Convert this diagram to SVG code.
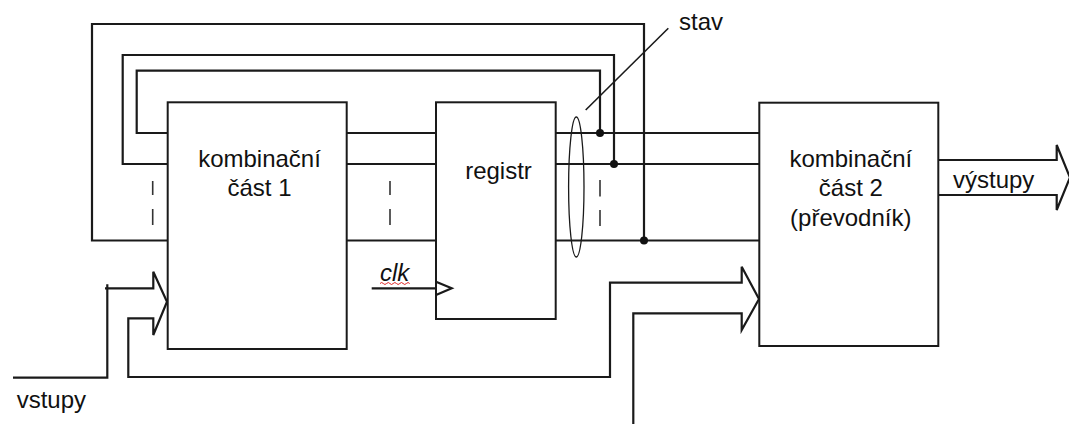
<svg xmlns="http://www.w3.org/2000/svg" width="1069" height="424" viewBox="0 0 1069 424">
<style>
.box{fill:#fff;stroke:#1a1a1a;stroke-width:2}
.w{fill:none;stroke:#1a1a1a;stroke-width:2.2}
.thin{fill:none;stroke:#1a1a1a;stroke-width:1.3}
.dash{fill:none;stroke:#333;stroke-width:1.6}
.dot{fill:#111}
text{font-family:"Liberation Sans",Arial,sans-serif;font-size:24px;fill:#111}
.c{text-anchor:middle}
</style>
<rect width="1069" height="424" fill="#fff"/>
<g id="connectors">
<!-- feedback loops -->
<polyline class="w" points="168,240.5 92,240.5 92,24 644,24 644,240.5"/>
<polyline class="w" points="168,164 122.7,164 122.7,55 614,55 614,164"/>
<polyline class="w" points="168,133 136.7,133 136.7,70.7 600,70.7 600,133"/>
<!-- between box1 and registr -->
<line class="w" x1="346.7" y1="133" x2="436" y2="133"/>
<line class="w" x1="346.7" y1="164" x2="436" y2="164"/>
<line class="w" x1="346.7" y1="240.5" x2="436" y2="240.5"/>
<!-- registr to box3 -->
<line class="w" x1="555.7" y1="133" x2="759" y2="133"/>
<line class="w" x1="555.7" y1="164" x2="759" y2="164"/>
<line class="w" x1="555.7" y1="240.5" x2="759" y2="240.5"/>
<circle class="dot" cx="600" cy="133" r="4"/>
<circle class="dot" cx="614" cy="164" r="4"/>
<circle class="dot" cx="644" cy="240.5" r="4"/>
<!-- dashes -->
<path class="dash" d="M152.7,181V195M152.7,209V225M390,181V195M390,209V225M600,180V196.5M600,210V226"/>
<!-- stav -->
<ellipse class="thin" cx="576.3" cy="187" rx="7.7" ry="70"/>
<line x1="585.7" y1="110" x2="668.3" y2="28.3" stroke="#1a1a1a" stroke-width="1.6"/>
<!-- input bus to box1 -->
<polyline class="w" points="13,377.7 107.3,377.7 107.3,284.3"/>
<polyline class="w" points="105,288.3 153.3,288.3 153.3,271.7 167,301.7 153.3,335 153.3,318.3 128.3,318.3 128.3,377 610,377 610,282.7 741.7,282.7 741.7,266.7 759,299 741.7,330 741.7,313.3 633.3,313.3 633.3,424"/>
<!-- clk -->
<line class="w" x1="371.7" y1="288.3" x2="436" y2="288.3"/>
<path d="M380,283.5q1.7,-2 3.3,0t3.3,0t3.3,0t3.3,0t3.3,0t3.3,0t3.3,0t3.3,0t3.3,0" fill="none" stroke="#e02020" stroke-width="1"/>
<!-- output bus -->
<polyline class="w" points="938.3,160 1056.7,160 1056.7,145 1070,177.5 1056.7,210 1056.7,195 938.3,195"/>
</g>
<g id="box1">
<rect class="box" x="167.7" y="102.3" width="179" height="246.7"/>
<text class="c" x="259.5" y="166.7">kombinační</text>
<text class="c" x="259.5" y="195.7">část 1</text>
</g>
<g id="registr">
<rect class="box" x="436" y="102.3" width="119.7" height="216.7"/>
<polyline class="w" points="436,281.7 451.7,288.3 436,295"/>
<text class="c" x="498.5" y="179">registr</text>
</g>
<g id="box2">
<rect class="box" x="759.3" y="102.7" width="179" height="243.3"/>
<text class="c" x="850.8" y="167">kombinační</text>
<text class="c" x="850.8" y="196">část 2</text>
<text class="c" x="850.8" y="225.5">(převodník)</text>
</g>
<g id="labels">
<text x="679" y="29.5">stav</text>
<text x="380" y="280.7" font-style="italic">clk</text>
<text x="16.7" y="408">vstupy</text>
<text x="953" y="188">výstupy</text>
</g>
</svg>
